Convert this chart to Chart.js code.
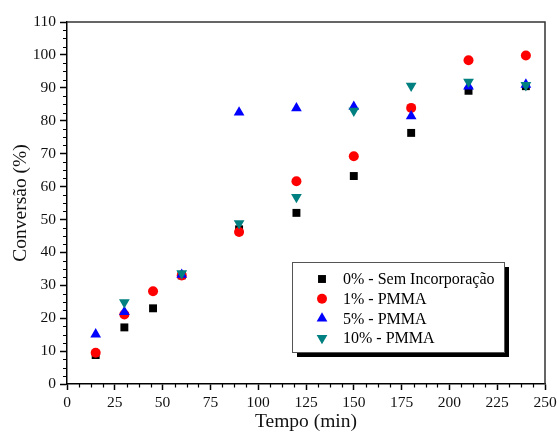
<!DOCTYPE html>
<html>
<head>
<meta charset="utf-8">
<script src="https://cdn.jsdelivr.net/npm/chart.js@4"></script>
<style>
  html, body { margin: 0; padding: 0; background: #fff; }
  #wrap { width: 557px; height: 436px; }
</style>
</head>
<body>
<div id="wrap"><canvas id="c" width="557" height="436"></canvas></div>
<script>
// ---- data ----
const seriesLabels = ['0% - Sem Incorporação', '1% - PMMA', '5% - PMMA', '10% - PMMA'];
const time0 = [15, 30, 45, 60, 90, 120, 150, 180, 210, 240];
const conv0 = [8.8, 17.2, 23.0, 33.0, 47.0, 52.0, 63.2, 76.3, 89.1, 90.5];
const time1 = [15, 30, 45, 60, 90, 120, 150, 180, 210, 240];
const conv1 = [9.5, 21.1, 28.2, 33.0, 46.2, 61.6, 69.2, 83.9, 98.4, 99.8];
const time5 = [15, 30, 60, 90, 120, 150, 180, 210, 240];
const conv5 = [15.1, 21.9, 33.2, 82.5, 83.8, 84.3, 81.4, 90.4, 91.0];
const time10 = [30, 60, 90, 120, 150, 180, 210, 240];
const conv10 = [24.8, 33.6, 48.8, 56.8, 83.0, 90.6, 91.8, 90.8];
const xTicks = [0, 25, 50, 75, 100, 125, 150, 175, 200, 225, 250];
const yTicks = [0, 10, 20, 30, 40, 50, 60, 70, 80, 90, 100, 110];
const xTitle = 'Tempo (min)';
const yTitle = 'Conversão (%)';

const FONT = "'Liberation Serif', 'Times New Roman', serif";

function pts(xs, ys) { return xs.map((x, i) => ({ x: x, y: ys[i] })); }

const styles = [
  { color: '#000000', pointStyle: 'rect', radius: 5.6, rotation: 0, order: 4 },
  { color: '#FF0000', pointStyle: 'circle', radius: 5.0, rotation: 0, order: 3 },
  { color: '#0000FF', pointStyle: 'triangle', radius: 6.2, rotation: 0, order: 2 },
  { color: '#008080', pointStyle: 'triangle', radius: 6.2, rotation: 180, order: 1 }
];
const dataSets = [pts(time0, conv0), pts(time1, conv1), pts(time5, conv5), pts(time10, conv10)];

const datasets = dataSets.map((d, i) => ({
  label: seriesLabels[i],
  data: d,
  showLine: false,
  pointStyle: styles[i].pointStyle,
  pointRadius: styles[i].radius,
  pointRotation: styles[i].rotation,
  pointBackgroundColor: styles[i].color,
  pointBorderColor: styles[i].color,
  pointBorderWidth: 0,
  order: styles[i].order
}));

const framePlugin = {
  id: 'frame',
  afterDraw(chart) {
    const ctx = chart.ctx;
    const a = chart.chartArea;
    const xs = chart.scales.x, ys = chart.scales.y;
    ctx.save();
    ctx.strokeStyle = '#333';
    ctx.lineWidth = 1.5;
    ctx.beginPath();
    ctx.moveTo(a.left, a.top);
    ctx.lineTo(a.right, a.top);
    ctx.lineTo(a.right, a.bottom);
    ctx.stroke();
    ctx.strokeStyle = '#000';
    ctx.lineWidth = 1.2;
    ctx.beginPath();
    for (let v = 0; v <= 250; v += 6.25) {
      if (Math.abs(v % 25) < 1e-6) continue;
      const px = Math.round(xs.getPixelForValue(v)) + 0.5;
      ctx.moveTo(px, a.bottom);
      ctx.lineTo(px, a.bottom + 3.5);
    }
    for (let v = 0; v <= 110; v += 2.5) {
      if (Math.abs(v % 10) < 1e-6) continue;
      const py = Math.round(ys.getPixelForValue(v)) + 0.5;
      ctx.moveTo(a.left, py);
      ctx.lineTo(a.left - 4, py);
    }
    ctx.stroke();
    ctx.restore();
  }
};

const legendPlugin = {
  id: 'boxLegend',
  afterDatasetsDraw(chart) {
    const ctx = chart.ctx;
    const a = chart.chartArea;
    const bx = a.left + 225, by = a.top + 240, bw = 212, bh = 90;
    ctx.save();
    ctx.fillStyle = '#000';
    ctx.fillRect(bx + 5, by + 5, bw, bh);
    ctx.fillStyle = '#fff';
    ctx.fillRect(bx, by, bw, bh);
    ctx.strokeStyle = '#555';
    ctx.lineWidth = 1;
    ctx.strokeRect(bx + 0.5, by + 0.5, bw, bh);
    ctx.font = "16px " + FONT;
    ctx.textBaseline = 'middle';
    ctx.textAlign = 'left';
    chart.data.datasets.forEach((ds, i) => {
      const cy = by + 17 + i * 19.7;
      ctx.fillStyle = ds.pointBackgroundColor;
      Chart.helpers.drawPoint(ctx, {
        pointStyle: ds.pointStyle,
        rotation: ds.pointRotation,
        radius: ds.pointRadius,
        borderWidth: 0
      }, bx + 30, cy);
      ctx.fillStyle = '#000';
      ctx.fillText(ds.label, bx + 51, cy + 1);
    });
    ctx.restore();
  }
};

new Chart(document.getElementById('c'), {
  type: 'scatter',
  data: { datasets: datasets },
  options: {
    responsive: false,
    animation: false,
    devicePixelRatio: 1,
    layout: { padding: { top: 22, right: 12, left: 0, bottom: 0 } },
    plugins: {
      legend: { display: false },
      tooltip: { enabled: false }
    },
    scales: {
      x: {
        type: 'linear',
        min: 0, max: 250,
        afterFit(s) { s.height = 52; s.paddingRight = 0; s.paddingLeft = 0; },
        afterBuildTicks(s) { s.ticks = xTicks.map(v => ({ value: v })); },
        ticks: { font: { family: FONT, size: 15.5 }, color: '#111', padding: 4, maxRotation: 0, autoSkip: false },
        grid: { display: true, drawOnChartArea: false, drawTicks: true, tickLength: 6, tickColor: '#000', tickWidth: 1.5 },
        border: { display: true, color: '#000', width: 1.5 },
        title: { display: true, text: xTitle, font: { family: FONT, size: 19.5 }, color: '#111', padding: { top: 0, bottom: 2 } }
      },
      y: {
        type: 'linear',
        min: 0, max: 110,
        afterFit(s) { s.width = 67; s.paddingTop = 0; s.paddingBottom = 0; },
        afterBuildTicks(s) { s.ticks = yTicks.map(v => ({ value: v })); },
        ticks: { font: { family: FONT, size: 15.5 }, color: '#111', padding: 4, autoSkip: false },
        grid: { display: true, drawOnChartArea: false, drawTicks: true, tickLength: 7, tickColor: '#000', tickWidth: 1.5 },
        border: { display: true, color: '#000', width: 1.5 },
        title: { display: true, text: yTitle, font: { family: FONT, size: 19.5 }, color: '#111', padding: { top: 9, bottom: 0 } }
      }
    }
  },
  plugins: [framePlugin, legendPlugin]
});
</script>
</body>
</html>
